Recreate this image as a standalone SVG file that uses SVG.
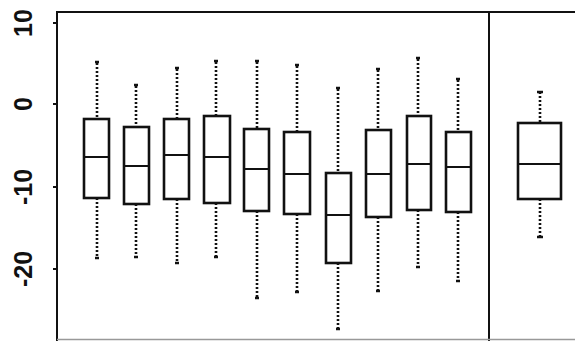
<svg xmlns="http://www.w3.org/2000/svg" width="575" height="341" viewBox="0 0 575 341">
<style>
.frame{stroke:#111;stroke-width:2;fill:none}
.box rect{fill:#fff;stroke:#111;stroke-width:2.6}
.box .med{stroke:#111;stroke-width:2}
.box .wh{stroke:#111;stroke-width:2.6;stroke-dasharray:2 2}
.box .cap{stroke:#111;stroke-width:2.5}
.lab{font-family:"Liberation Sans",Arial,sans-serif;font-size:25px;font-weight:bold;fill:#111;text-anchor:middle}
</style>
<g id="axes">
<line class="frame" x1="57" y1="12" x2="575" y2="12"/>
<line class="frame" x1="57" y1="11" x2="57" y2="341"/>
<line class="frame" x1="489" y1="12" x2="489" y2="341"/>
<line x1="57" y1="339.5" x2="575" y2="339.5" stroke="#999" stroke-width="1.5"/>
<g stroke="#111" stroke-width="2">
<line x1="53" y1="23" x2="57" y2="23"/>
<line x1="53" y1="104" x2="57" y2="104"/>
<line x1="53" y1="187" x2="57" y2="187"/>
<line x1="53" y1="269" x2="57" y2="269"/>
</g>
<text class="lab" transform="translate(32,23) rotate(-90)">10</text>
<text class="lab" transform="translate(32,104) rotate(-90)">0</text>
<text class="lab" transform="translate(32,187) rotate(-90)">-10</text>
<text class="lab" transform="translate(32,269) rotate(-90)">-20</text>
</g>
<g id="connectors">
<g class="box">
<line class="wh" x1="97" y1="63" x2="97" y2="119"/><line class="wh" x1="97" y1="198" x2="97" y2="258"/>
<line class="wh" x1="136" y1="86" x2="136" y2="127"/><line class="wh" x1="136" y1="204" x2="136" y2="257"/>
<line class="wh" x1="177" y1="69" x2="177" y2="119"/><line class="wh" x1="177" y1="199" x2="177" y2="263"/>
<line class="wh" x1="216" y1="62" x2="216" y2="116"/><line class="wh" x1="216" y1="203" x2="216" y2="257"/>
<line class="wh" x1="257" y1="62" x2="257" y2="129"/><line class="wh" x1="257" y1="211" x2="257" y2="298"/>
<line class="wh" x1="297" y1="66" x2="297" y2="132"/><line class="wh" x1="297" y1="214" x2="297" y2="292"/>
<line class="wh" x1="338" y1="89" x2="338" y2="173"/><line class="wh" x1="338" y1="263" x2="338" y2="329"/>
<line class="wh" x1="378" y1="70" x2="378" y2="130"/><line class="wh" x1="378" y1="217" x2="378" y2="291"/>
<line class="wh" x1="418" y1="59" x2="418" y2="116"/><line class="wh" x1="418" y1="210" x2="418" y2="267"/>
<line class="wh" x1="458" y1="80" x2="458" y2="132"/><line class="wh" x1="458" y1="212" x2="458" y2="281"/>
<line class="wh" x1="540" y1="92" x2="540" y2="123"/><line class="wh" x1="540" y1="199" x2="540" y2="237"/>
</g>
</g>
<g id="b1" class="box"><line class="cap" x1="95" y1="62" x2="99" y2="62"/><line class="cap" x1="95" y1="258" x2="99" y2="258"/><rect x="84" y="119" width="25" height="79"/><line class="med" x1="84" y1="157" x2="109" y2="157"/></g>
<g id="b2" class="box"><line class="cap" x1="134" y1="85" x2="138" y2="85"/><line class="cap" x1="134" y1="257" x2="138" y2="257"/><rect x="124" y="127" width="25" height="77"/><line class="med" x1="124" y1="166" x2="149" y2="166"/></g>
<g id="b3" class="box"><line class="cap" x1="175" y1="68" x2="179" y2="68"/><line class="cap" x1="175" y1="263" x2="179" y2="263"/><rect x="164" y="119" width="25" height="80"/><line class="med" x1="164" y1="155" x2="189" y2="155"/></g>
<g id="b4" class="box"><line class="cap" x1="214" y1="61" x2="218" y2="61"/><line class="cap" x1="214" y1="257" x2="218" y2="257"/><rect x="204" y="116" width="26" height="87"/><line class="med" x1="204" y1="157" x2="230" y2="157"/></g>
<g id="b5" class="box"><line class="cap" x1="255" y1="61" x2="259" y2="61"/><line class="cap" x1="255" y1="298" x2="259" y2="298"/><rect x="244" y="129" width="25" height="82"/><line class="med" x1="244" y1="169" x2="269" y2="169"/></g>
<g id="b6" class="box"><line class="cap" x1="295" y1="65" x2="299" y2="65"/><line class="cap" x1="295" y1="292" x2="299" y2="292"/><rect x="284" y="132" width="26" height="82"/><line class="med" x1="284" y1="174" x2="310" y2="174"/></g>
<g id="b7" class="box"><line class="cap" x1="336" y1="88" x2="340" y2="88"/><line class="cap" x1="336" y1="329" x2="340" y2="329"/><rect x="326" y="173" width="25" height="90"/><line class="med" x1="326" y1="215" x2="351" y2="215"/></g>
<g id="b8" class="box"><line class="cap" x1="376" y1="69" x2="380" y2="69"/><line class="cap" x1="376" y1="291" x2="380" y2="291"/><rect x="366" y="130" width="25" height="87"/><line class="med" x1="366" y1="174" x2="391" y2="174"/></g>
<g id="b9" class="box"><line class="cap" x1="416" y1="58" x2="420" y2="58"/><line class="cap" x1="416" y1="267" x2="420" y2="267"/><rect x="407" y="116" width="24" height="94"/><line class="med" x1="407" y1="164" x2="431" y2="164"/></g>
<g id="b10" class="box"><line class="cap" x1="456" y1="79" x2="460" y2="79"/><line class="cap" x1="456" y1="281" x2="460" y2="281"/><rect x="446" y="132" width="25" height="80"/><line class="med" x1="446" y1="167" x2="471" y2="167"/></g>
<g id="b11" class="box"><line class="cap" x1="537" y1="92" x2="543" y2="92"/><line class="cap" x1="537" y1="237" x2="543" y2="237"/><rect x="518" y="123" width="43" height="76"/><line class="med" x1="518" y1="164" x2="561" y2="164"/></g>
</svg>
